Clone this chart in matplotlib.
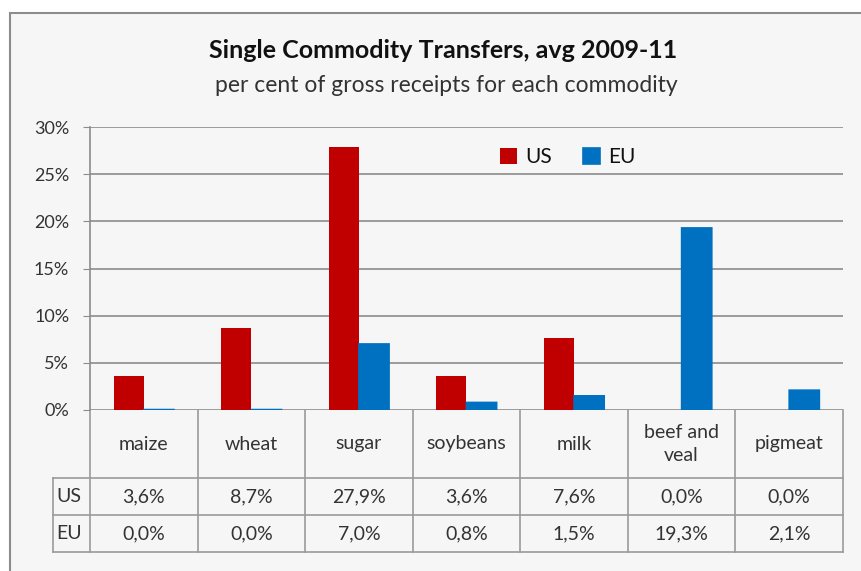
import numpy as np
import matplotlib.pyplot as plt
from matplotlib.patches import Rectangle
import matplotlib.transforms as mtransforms

plt.rcParams['font.family'] = ['Lato', 'DejaVu Sans']

categories = ["maize", "wheat", "sugar", "soybeans", "milk", "beef and\nveal", "pigmeat"]
us = [3.6, 8.7, 27.9, 3.6, 7.6, 0.0, 0.0]
eu = [0.045, 0.045, 7.0, 0.8, 1.5, 19.3, 2.1]
series = ["US", "EU"]
colors = ["#C00000", "#0070C0"]

W, H = 861, 571
fig = plt.figure(figsize=(W / 100, H / 100), dpi=100)
fig.patch.set_facecolor("white")

# outer chart frame
fig.patches.append(Rectangle((10 / W, -0.1), 1.1, (571 - 13) / H + 0.1,
                             transform=fig.transFigure, facecolor="#f6f6f6",
                             edgecolor="#8c8c8c", linewidth=1.5, zorder=-10))

txt = "#333333"
fig.text(443 / W, (571 - 51) / H, "Single Commodity Transfers, avg 2009-11",
         ha="center", va="center", fontsize=18, fontweight="bold", color="#111111")
fig.text(446 / W, (571 - 86) / H, "per cent of gross receipts for each commodity",
         ha="center", va="center", fontsize=16.5, color=txt)

x0, x1, ytop, ybot = 90, 843, 127, 410
ax = fig.add_axes([x0 / W, (H - ybot) / H, (x1 - x0) / W, (ybot - ytop) / H])
ax.set_facecolor("none")
x = np.arange(len(categories))
bw = 0.28
ax.bar(x - bw / 2, us, bw, color=colors[0], label=series[0], zorder=3)
eu_bars = ax.bar(x + bw / 2, eu, bw, color=colors[1], edgecolor=colors[1],
                 linewidth=1.2, label=series[1], zorder=3)
for p in eu_bars:
    p.set_snap(False)
ax.set_xlim(-0.5, len(categories) - 0.5)
ax.set_ylim(0, 30)
ax.set_yticks(np.arange(0, 31, 5))
ax.set_yticklabels([f"{v}%" for v in range(0, 31, 5)], fontsize=13, color=txt)
ax.tick_params(axis="y", length=5, color="#8c8c8c", pad=10)
ax.set_xticks([])
ax.grid(axis="y", color="#8c8c8c", linewidth=1.2, zorder=0)
ax.set_axisbelow(True)
for s in ["top", "right", "bottom"]:
    ax.spines[s].set_visible(False)
ax.spines["left"].set_color("#8c8c8c")
ax.spines["left"].set_linewidth(1.2)

leg = ax.legend(loc="upper left", bbox_to_anchor=(0.52, 0.995), ncol=2, frameon=False,
                fontsize=15, handlelength=0.8, handleheight=0.8, columnspacing=1.5,
                handletextpad=0.4)
for t in leg.get_texts():
    t.set_color("#111111")

# data table below the axis
tr = mtransforms.blended_transform_factory(ax.transData, ax.transAxes)
ph = ybot - ytop
r1 = -(478 - ybot) / ph
r2 = -(515 - ybot) / ph
r3 = -(552 - ybot) / ph
xl = -0.5 - 37 / ((x1 - x0) / len(categories))
lc = "#9a9a9a"
kw = dict(transform=tr, color=lc, linewidth=1.2, clip_on=False)
for b in np.arange(-0.5, len(categories)):
    ax.plot([b, b], [0, r3], **kw)
ax.plot([xl, xl], [r1, r3], **kw)
for r in [r1, r2, r3]:
    ax.plot([xl, len(categories) - 0.5], [r, r], **kw)

fs = 14
for i, c in enumerate(categories):
    ax.text(i, r1 / 2, c, transform=tr, ha="center", va="center", fontsize=fs,
            color=txt, linespacing=1.45)
    ax.text(i, (r1 + r2) / 2, f"{us[i]:.1f}%".replace(".", ","), transform=tr,
            ha="center", va="center", fontsize=fs, color=txt)
    ax.text(i, (r2 + r3) / 2, f"{eu[i]:.1f}%".replace(".", ","), transform=tr,
            ha="center", va="center", fontsize=fs, color=txt)
ax.text(xl + 0.03, (r1 + r2) / 2, series[0], transform=tr, ha="left", va="center",
        fontsize=fs, color=txt)
ax.text(xl + 0.03, (r2 + r3) / 2, series[1], transform=tr, ha="left", va="center",
        fontsize=fs, color=txt)

fig.savefig("out.png", dpi=100, facecolor=fig.get_facecolor())
